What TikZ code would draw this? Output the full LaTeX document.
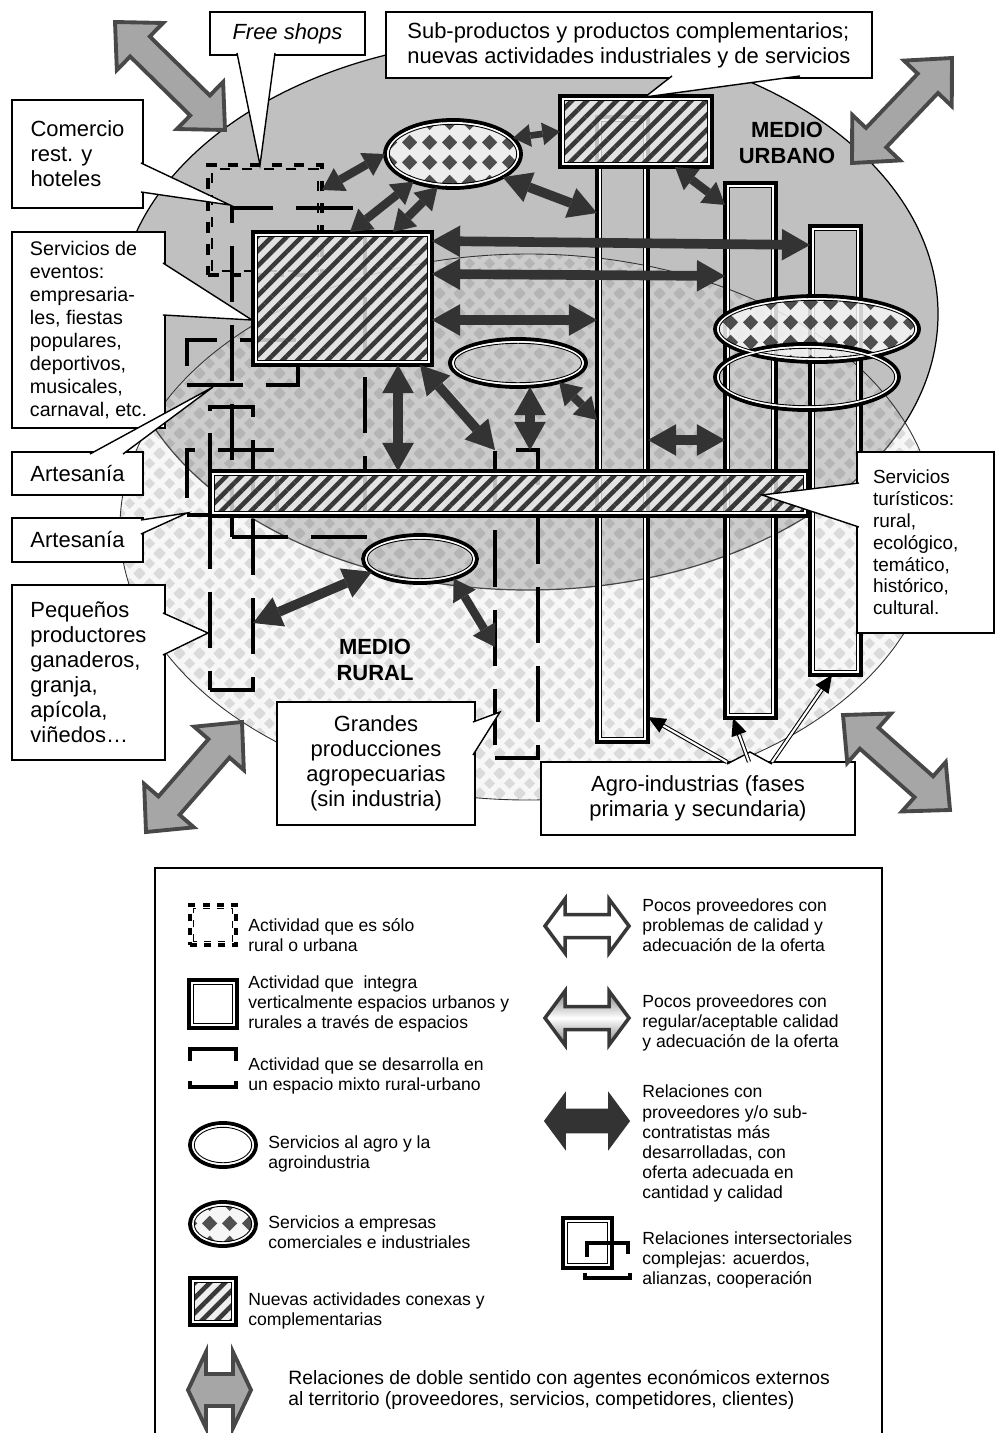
\documentclass[tikz,border=0pt]{standalone}
\usepackage{fontspec}
\setmainfont{Liberation Sans}
\usepackage{xcolor}
\usetikzlibrary{shapes,arrows.meta,positioning,calc,patterns,patterns.meta}

\definecolor{urbgray}{HTML}{C0C0C0}
\definecolor{reldark}{HTML}{333333}
\definecolor{extfill}{HTML}{A6A6A6}
\definecolor{extline}{HTML}{484848}

\newcommand{\callfont}{\fontsize{12.5}{14.2}\selectfont}
\newcommand{\evfont}{\fontsize{11.2}{13.1}\selectfont}
\newcommand{\turfont}{\fontsize{10.8}{12.4}\selectfont}
\newcommand{\legfont}{\fontsize{10}{11.4}\selectfont}
\newcommand{\medfont}{\fontsize{12.5}{14.6}\selectfont\bfseries}

% diamond tiles for the rural area and the service ellipses
\newcommand{\rhombpath}[3]{%
  \pgfpathmoveto{\pgfpoint{#1pt-#3pt}{#2pt}}%
  \pgfpathlineto{\pgfpoint{#1pt}{#2pt+#3pt}}%
  \pgfpathlineto{\pgfpoint{#1pt+#3pt}{#2pt}}%
  \pgfpathlineto{\pgfpoint{#1pt}{#2pt-#3pt}}%
  \pgfpathclose}
\pgfdeclarepatternformonly{rhomb}{\pgfqpoint{0pt}{0pt}}{\pgfqpoint{11.4pt}{11.4pt}}{\pgfqpoint{11.4pt}{11.4pt}}{%
  \rhombpath{0}{0}{3.3}\rhombpath{11.4}{0}{3.3}\rhombpath{0}{11.4}{3.3}%
  \rhombpath{11.4}{11.4}{3.3}\rhombpath{5.7}{5.7}{3.3}\pgfusepath{fill}}
\pgfdeclarepatternformonly{chk}{\pgfqpoint{0pt}{0pt}}{\pgfqpoint{11.4pt}{11.4pt}}{\pgfqpoint{11.4pt}{11.4pt}}{%
  \rhombpath{5.7}{5.7}{4.5}\pgfusepath{fill}}

% inner white and black lines of the framed shapes
\newcommand{\inframe}[1]{%
  \draw[white, line width=1pt] ($(#1.south west)+(3,-3)$) rectangle ($(#1.north east)+(-3,3)$);
  \draw[line width=0.5pt] ($(#1.south west)+(4.3,-4.3)$) rectangle ($(#1.north east)+(-4.3,4.3)$);}
\newcommand{\inring}[3]{%
  \draw[white, line width=1pt] (#1.center) ellipse [x radius=#2-3, y radius=#3-3];
  \draw[line width=0.5pt] (#1.center) ellipse [x radius=#2-4.3, y radius=#3-4.3];}

% wide double arrow: [style]{x1}{y1}{x2}{y2}{head length}{head half}{shaft half}
\newcommand{\dblarrow}[8][]{%
  \pgfmathsetmacro\arrang{atan2((#3)-(#5),(#4)-(#2))}%
  \pgfmathsetmacro\arrlen{veclen((#4)-(#2),(#5)-(#3))}%
  \begin{scope}[shift={(#2,#3)}, rotate=\arrang]
    \filldraw[#1] (0,0) -- (#6,-#7) -- (#6,-#8) -- (\arrlen-#6,-#8) -- (\arrlen-#6,-#7)
      -- (\arrlen,0) -- (\arrlen-#6,#7) -- (\arrlen-#6,#8) -- (#6,#8) -- (#6,#7) -- cycle;
  \end{scope}}

\begin{document}
\begin{tikzpicture}[x=0.02cm, y=-0.02cm,
  every node/.style={font=\callfont},
  callbox/.style={draw, fill=white, line width=0.8pt, align=left, inner xsep=0.34cm, inner ysep=0pt, outer sep=0pt, anchor=north west},
  pointer/.style={draw, fill=white, line width=0.8pt, line join=miter},
  intframe/.style={draw, line width=2.4pt, inner sep=0pt, outer sep=0pt},
  hatched/.style={intframe, preaction={fill=black!8, fill opacity=0.8}, pattern={Lines[angle=45,distance=6pt,line width=2.6pt]}, pattern color=black!78, fill opacity=0.8},
  ring/.style={ellipse, draw, line width=2.2pt, inner sep=0pt, outer sep=0pt},
  checkered/.style={ring, preaction={fill=black!4, fill opacity=0.85}, pattern=chk, pattern color=black!80, fill opacity=0.85},
  mixed/.style={draw, line width=2.8pt, dash pattern=on 32pt off 13pt, inner sep=0pt, outer sep=0pt},
  onlyone/.style={draw, line width=2.2pt, dash pattern=on 6pt off 6.5pt, inner sep=0pt, outer sep=0pt},
  rel/.style={draw=reldark, line width=5.5pt, {Triangle[width=18pt,length=16pt,line width=0pt]}-{Triangle[width=18pt,length=16pt,line width=0pt]}},
  relmd/.style={draw=reldark, line width=4.8pt, {Triangle[width=15pt,length=12pt,line width=0pt]}-{Triangle[width=15pt,length=12pt,line width=0pt]}},
  relsm/.style={draw=reldark, line width=3.8pt, {Triangle[width=13pt,length=10pt,line width=0pt]}-{Triangle[width=13pt,length=10pt,line width=0pt]}},
  agroarr/.style={draw, line width=0.6pt, double=white, double distance=1.2pt, -{Triangle[width=9pt,length=10pt,line width=0pt]}},
  extarr/.style={fill=extfill, draw=extline, line width=2.2pt, line join=miter},
  legopen/.style={fill=white, draw=black!78, line width=2pt, line join=miter},
  legmid/.style={top color=black!50, bottom color=black!50, middle color=white, draw=black!78, line width=2pt, line join=miter},
  legsolid/.style={fill=reldark, draw=reldark, line width=1pt, line join=miter},
  legtext/.style={font=\legfont, align=left, anchor=west, inner sep=0pt}]
\useasboundingbox (0,0) rectangle (995,1433);
\fill[white] (0,0) rectangle (995,1433);

% urban and rural areas
\filldraw[fill=urbgray, draw=black, line width=0.7pt] (528,314) ellipse [x radius=410, y radius=276];
\fill[white, fill opacity=0.3] (528,527) ellipse [x radius=408, y radius=273];
\fill[black, fill opacity=0.03] (528,527) ellipse [x radius=408, y radius=273];
\fill[pattern=rhomb, pattern color=black, fill opacity=0.11] (528,527) ellipse [x radius=408, y radius=273];
\draw[black!80, line width=0.5pt] (528,527) ellipse [x radius=408, y radius=273];

% mixed rural-urban activities
\node[mixed, minimum width=2.66cm, minimum height=6.58cm] (ma) at (298.5,372.5) {};
\node[mixed, minimum width=2.22cm, minimum height=0.9cm] (mb) at (242.5,362.5) {};
\node[mixed, minimum width=0.86cm, minimum height=5.66cm] (mc) at (231.5,548.5) {};
\node[mixed, minimum width=1.8cm, minimum height=1.3cm] (md) at (232,482.5) {};
\node[mixed, minimum width=0.86cm, minimum height=6.16cm] (me) at (516.5,604) {};

% only rural or urban
\node[onlyone, minimum width=2.28cm, minimum height=2.2cm] (fs) at (265,220) {};
\draw[dash pattern=on 6pt off 6.5pt, line width=0.6pt] ($(fs.south west)+(4,-4)$) rectangle ($(fs.north east)+(-4,4)$);

% vertical integration
\node[intframe, minimum width=1.02cm, minimum height=12.5cm] (b1) at (622.5,429.5) {};
\node[intframe, minimum width=1.02cm, minimum height=10.7cm] (b2) at (750.5,450.5) {};
\node[intframe, minimum width=1.02cm, minimum height=8.98cm] (b3) at (835.5,450.5) {};
\inframe{b1}\inframe{b2}\inframe{b3}

% new related activities
\node[hatched, minimum width=3.58cm, minimum height=2.66cm] (r1) at (342.5,298.5) {};
\node[hatched, minimum width=3.04cm, minimum height=1.42cm] (r2) at (636,131.5) {};
\node[hatched, minimum width=11.96cm, minimum height=0.9cm] (band) at (509,493.5) {};
\inframe{r1}\inframe{r2}\inframe{band}

% services
\node[checkered, minimum width=2.72cm, minimum height=1.36cm] (e1) at (453,154) {};
\node[checkered, minimum width=4.08cm, minimum height=1.32cm] (e2) at (817,329) {};
\node[ring, minimum width=3.68cm, minimum height=1.32cm] (e3) at (807,377) {};
\node[ring, minimum width=2.72cm, minimum height=0.96cm] (e4) at (518,363) {};
\node[ring, minimum width=2.28cm, minimum height=0.96cm] (e5) at (420,559) {};
\inring{e1}{68}{34}\inring{e2}{102}{33}\inring{e3}{92}{33}\inring{e4}{68}{24}\inring{e5}{57}{24}

% relations
\draw[relsm] (e1.15) -- (r2.west);
\draw[rel] (e1.-25) -- (b1.west |- 0,213);
\draw[relmd] (e1.west) -- (fs.east |- 0,190);
\draw[relmd] (e1.215) -- (350,0 |- r1.north);
\draw[relmd] (e1.245) -- (393,0 |- r1.north);
\draw[rel] (r1.east |- 0,241) -- (b3.west |- 0,245);
\draw[rel] (r1.east |- 0,274) -- (b2.west |- 0,276);
\draw[rel] (r1.east |- 0,320) -- (b1.west |- 0,320);
\draw[rel] (398,0 |- r1.south) -- (398,0 |- band.north);
\draw[rel] (420,0 |- r1.south) -- (me.north west);
\draw[rel] (530,0 |- e4.south) -- (530,0 |- me.north);
\draw[relmd] (e4.-25) -- (b1.west |- 0,420);
\draw[rel] (b1.east |- 0,440) -- (b2.west |- 0,440);
\draw[relmd] (675,0 |- r2.south) -- (b2.west |- 0,205);
\draw[rel] (e5.195) -- (mc.east |- 0,623);
\draw[relmd] (e5.-30) -- (me.west |- 0,647);

\node[font=\medfont, align=center] (urb) at (787,143) {MEDIO\\URBANO};
\node[font=\medfont, align=center] (rur) at (375,660) {MEDIO\\RURAL};

% callouts
\node[callbox, align=center, minimum width=3.1cm, minimum height=0.86cm] (free) at (210,12) {\itshape Free shops};
\coordinate (tfree) at (260,165);
\draw[pointer] ($(free.south west)+(27,-2)$) -- (tfree) -- ($(free.south west)+(65,-2)$);

\node[callbox, minimum width=9.72cm, minimum height=1.32cm] (subprod) at (386,12) {Sub-productos y productos complementarios;\\nuevas actividades industriales y de servicios};
\coordinate (tsub) at (645,97);
\draw[pointer] ($(subprod.south west)+(286,-2)$) -- (tsub) -- ($(subprod.south west)+(414,-2)$);

\node[callbox, minimum width=2.62cm, minimum height=2.16cm] (comercio) at (12,100) {Comercio\\rest. y\\hoteles};
\coordinate (tcom) at (230,205);
\draw[pointer] ($(comercio.north east)+(-2,63)$) -- (tcom) -- ($(comercio.north east)+(-2,92)$);

\node[callbox, font=\evfont, inner xsep=0.3cm, minimum width=3.06cm, minimum height=3.92cm] (eventos) at (12,232) {Servicios de\\eventos:\\empresaria-\\les, fiestas\\populares,\\deportivos,\\musicales,\\carnaval, etc.};
\coordinate (tev) at (252,320);
\draw[pointer] ($(eventos.north east)+(-2,31)$) -- (tev) -- ($(eventos.north east)+(-2,83)$);

\node[callbox, minimum width=2.62cm, minimum height=0.86cm] (artes1) at (12,452) {Artesanía};
\coordinate (tart1) at (213,387);
\draw[pointer] ($(artes1.north west)+(78,2)$) -- (tart1) -- ($(artes1.north west)+(111,2)$);

\node[callbox, minimum width=2.62cm, minimum height=0.88cm] (artes2) at (12,518) {Artesanía};
\coordinate (tart2) at (187,513);
\draw[pointer] ($(artes2.north east)+(-2,2)$) -- (tart2) -- ($(artes2.north east)+(-2,16)$);

\node[callbox, minimum width=3.06cm, minimum height=3.5cm] (pequenos) at (12,585) {Pequeños\\productores\\ganaderos,\\granja,\\apícola,\\viñedos…};
\coordinate (tpeq) at (208,633);
\draw[pointer] ($(pequenos.north east)+(-2,28)$) -- (tpeq) -- ($(pequenos.north east)+(-2,70)$);

\node[callbox, align=center, minimum width=3.96cm, minimum height=2.46cm] (grandes) at (277,702) {Grandes\\producciones\\agropecuarias\\(sin industria)};
\coordinate (tgra) at (500,712);
\draw[pointer] ($(grandes.north east)+(-2,20)$) -- (tgra) -- ($(grandes.north east)+(-2,53)$);

\node[callbox, font=\turfont, text width=2.1cm, inner xsep=0.32cm, minimum height=3.62cm] (turist) at (857,452) {Servicios\\turísticos:\\rural,\\ecológico,\\temático,\\histórico,\\cultural.};
\coordinate (ttur) at (762,495);
\draw[pointer] ($(turist.north west)+(2,31)$) -- (ttur) -- ($(turist.north west)+(2,75)$);

\node[callbox, align=center, minimum width=6.28cm, minimum height=1.46cm] (agro) at (541,762) {Agro-industrias (fases\\primaria y secundaria)};
\coordinate (tagro) at (750,752);
\draw[pointer] ($(agro.north west)+(186,2)$) -- (tagro) -- ($(agro.north west)+(231,2)$);
\draw[agroarr] (727,0 |- agro.north) -- (b1.east |- 0,717);
\draw[agroarr] (749,0 |- agro.north) -- (733,0 |- b2.south);
\draw[agroarr] (772,0 |- agro.north) -- (832,0 |- b3.south);

% relations with outside agents
\dblarrow[extarr]{115}{22}{225}{130}{35}{33}{14}
\dblarrow[extarr]{852}{163}{952}{58}{35}{33}{14}
\dblarrow[extarr]{146}{832}{242}{722}{35}{33}{14}
\dblarrow[extarr]{843}{715}{950}{810}{35}{33}{14}

% legend
\draw[line width=0.8pt] (155,1433) -- (155,868) -- (882,868) -- (882,1433);
\node[onlyone, dash pattern=on 4pt off 4pt, minimum width=0.92cm, minimum height=0.8cm] (lonly) at (213,925) {};
\draw[dash pattern=on 4pt off 4pt, line width=0.5pt] ($(lonly.south west)+(3.5,-3.5)$) rectangle ($(lonly.north east)+(-3.5,3.5)$);
\node[legtext] (tonly) at (248,935) {Actividad que es sólo\\rural o urbana};
\node[intframe, minimum width=0.96cm, minimum height=0.96cm] (lint) at (213,1004) {};
\inframe{lint}
\node[legtext] (tint) at (248,1004) {Actividad que~ integra\\verticalmente espacios urbanos y\\rurales a través de espacios};
\draw[line width=2.8pt] (190,1061) -- (190,1049) -- (236,1049) -- (236,1061);
\draw[line width=2.8pt] (190,1081) -- (190,1087) -- (236,1087) -- (236,1081);
\node[legtext] (tmix) at (248,1076) {Actividad que se desarrolla en\\un espacio mixto rural-urbano};
\node[ring, minimum width=1.32cm, minimum height=0.88cm] (lagro) at (223,1145) {};
\inring{lagro}{33}{22}
\node[legtext] (tagr) at (268,1154) {Servicios al agro y la\\agroindustria};
\node[checkered, minimum width=1.32cm, minimum height=0.88cm] (lemp) at (223,1224) {};
\inring{lemp}{33}{22}
\node[legtext] (temp) at (268,1232) {Servicios a empresas\\comerciales e industriales};
\node[hatched, minimum width=0.92cm, minimum height=0.94cm] (lnew) at (213,1301.5) {};
\inframe{lnew}
\node[legtext] (tnew) at (248,1311) {Nuevas actividades conexas y\\complementarias};
\dblarrow[extarr]{188}{1390}{251}{1390}{18}{38}{16}
\node[legtext, font=\fontsize{11}{11.6}\selectfont] (text) at (288,1390) {Relaciones de doble sentido con agentes económicos externos\\al territorio (proveedores, servicios, competidores, clientes)};

\dblarrow[legopen]{545}{926}{629}{926}{20}{27}{11.5}
\node[legtext] (tpoor) at (642,925) {Pocos proveedores con\\problemas de calidad y\\adecuación de la oferta};
\dblarrow[legmid]{545}{1018}{629}{1018}{20}{27}{11.5}
\node[legtext] (tfair) at (642,1023) {Pocos proveedores con\\regular/aceptable calidad\\y adecuación de la oferta};
\dblarrow[legsolid]{545}{1121}{629}{1121}{20}{27}{11.5}
\node[legtext] (tgood) at (642,1143.5) {Relaciones con\\proveedores y/o sub-\\contratistas más\\desarrolladas, con\\oferta adecuada en\\cantidad y calidad};
\node[intframe, minimum width=0.98cm, minimum height=1.0cm] (lsec) at (587.5,1243) {};
\inframe{lsec}
\draw[line width=2.8pt] (587,1257) -- (587,1243) -- (628,1243) -- (628,1254);
\draw[line width=2.8pt] (585,1273) -- (585,1278) -- (630,1278) -- (630,1273);
\node[legtext] (tsec) at (642,1260) {Relaciones intersectoriales\\complejas: acuerdos,\\alianzas, cooperación};
\end{tikzpicture}
\end{document}
